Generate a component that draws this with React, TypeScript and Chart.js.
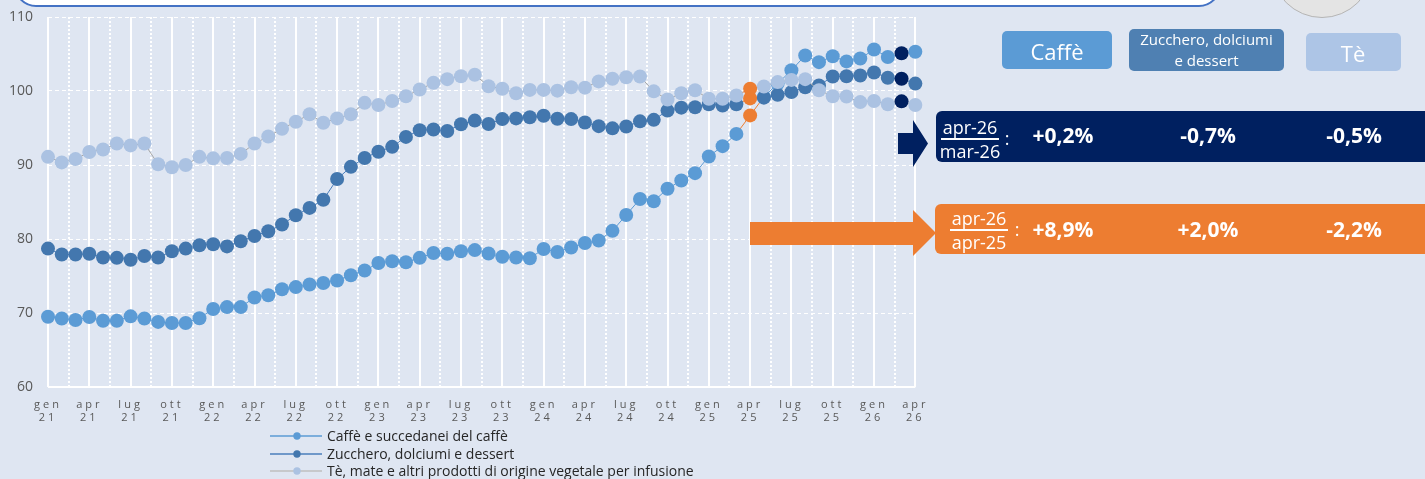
import React, { useEffect, useRef } from 'react';
import { Chart, registerables } from 'chart.js';

Chart.register(...registerables);

// ---------- DATA ----------
const MONTH_NAMES = ['gen', 'feb', 'mar', 'apr', 'mag', 'giu', 'lug', 'ago', 'set', 'ott', 'nov', 'dic'];
const YEARS = ['21', '22', '23', '24', '25', '26'];
const CATEGORIES = YEARS.flatMap((y) => MONTH_NAMES.map((m) => `${m} ${y}`)).slice(0, 64);

const TICK_LABELS = [
  'gen 21', 'apr 21', 'lug 21', 'ott 21',
  'gen 22', 'apr 22', 'lug 22', 'ott 22',
  'gen 23', 'apr 23', 'lug 23', 'ott 23',
  'gen 24', 'apr 24', 'lug 24', 'ott 24',
  'gen 25', 'apr 25', 'lug 25', 'ott 25',
  'gen 26', 'apr 26',
];

const CAFFE = [
  69.5, 69.25, 69.05, 69.45, 68.95, 68.95, 69.55, 69.25, 68.8, 68.65, 68.65, 69.3,
  70.55, 70.8, 70.8, 72.1, 72.4, 73.2, 73.5, 73.85, 74.05, 74.4, 75.1, 75.75,
  76.75, 77.0, 76.85, 77.45, 78.1, 78.0, 78.35, 78.5, 78.05, 77.6, 77.5, 77.4,
  78.65, 78.25, 78.85, 79.45, 79.8, 81.1, 83.25, 85.4, 85.1, 86.8, 87.9, 88.9,
  91.15, 92.55, 94.2, 96.7, 99.2, 101.0, 102.8, 104.8, 103.9, 104.7, 104.0, 104.4,
  105.6, 104.6, 105.1, 105.3,
];

const ZUCCHERO = [
  78.7, 77.9, 77.9, 78.0, 77.5, 77.45, 77.2, 77.7, 77.5, 78.35, 78.7, 79.15,
  79.3, 79.0, 79.7, 80.4, 81.05, 81.95, 83.2, 84.2, 85.3, 88.1, 89.75, 90.95,
  91.8, 92.45, 93.8, 94.7, 94.8, 94.6, 95.5, 96.0, 95.55, 96.2, 96.3, 96.45,
  96.65, 96.25, 96.2, 95.75, 95.25, 94.95, 95.2, 95.9, 96.1, 97.35, 97.75, 97.8,
  98.2, 98.05, 98.2, 99.0, 99.1, 99.5, 99.85, 100.5, 100.75, 101.95, 102.0, 102.1,
  102.5, 101.8, 101.65, 101.0,
];

const TE = [
  91.1, 90.35, 90.8, 91.75, 92.1, 92.9, 92.65, 92.9, 90.1, 89.7, 90.0, 91.1,
  90.9, 90.95, 91.5, 92.9, 93.85, 94.9, 95.85, 96.85, 95.7, 96.3, 96.85, 98.4,
  98.1, 98.65, 99.3, 100.2, 101.1, 101.6, 102.0, 102.2, 100.65, 100.3, 99.7, 100.15,
  100.15, 100.05, 100.5, 100.45, 101.3, 101.65, 101.85, 101.95, 99.95, 98.85, 99.7, 100.1,
  98.95, 98.95, 99.4, 100.3, 100.6, 101.2, 101.5, 101.6, 100.1, 99.3, 99.25, 98.5,
  98.65, 98.2, 98.6, 98.1,
];

const SERIES_NAMES = [
  'Caffè e succedanei del caffè',
  'Zucchero, dolciumi e dessert',
  'Tè, mate e altri prodotti di origine vegetale per infusione',
];
const HEADERS = ['Caffè', 'Zucchero, dolciumi e dessert', 'Tè'];
const MOM_LABELS = ['apr-26', 'mar-26'];
const YOY_LABELS = ['apr-26', 'apr-25'];
const MOM_VALUES = ['+0,2%', '-0,7%', '-0,5%'];
const YOY_VALUES = ['+8,9%', '+2,0%', '-2,2%'];

const YOY_INDEX = CATEGORIES.indexOf('apr 25');
const MOM_INDEX = CATEGORIES.indexOf('mar 26');

// ---------- STYLE ----------
const BG = '#DFE6F2';
const FONT = '"Open Sans", sans-serif';
const ORANGE = '#ED7D31';
const NAVY = '#002060';
const C_CAFFE = '#5B9BD5';
const C_ZUCCHERO = '#4377AE';
const C_TE = '#ABC2E2';
const L_CAFFE = '#5B9BD5';
const L_ZUCCHERO = '#4A7EBB';
const L_TE = '#A6A6A6';

const makeDataset = (label: string, values: number[], line: string, point: string, order: number) => {
  const pc = (c: any) => (c.dataIndex === YOY_INDEX ? ORANGE : c.dataIndex === MOM_INDEX ? NAVY : point);
  return {
    label,
    data: values.map((y, x) => ({ x, y })),
    borderColor: line,
    borderWidth: 1,
    pointRadius: 7,
    pointHoverRadius: 7,
    pointBorderWidth: 0,
    pointBackgroundColor: pc,
    pointBorderColor: pc,
    segment: {
      borderColor: (c: any) => (c.p0DataIndex === YOY_INDEX || c.p1DataIndex === YOY_INDEX ? ORANGE : undefined),
    },
    tension: 0,
    fill: false,
    clip: false as const,
    order,
  };
};

const letterSpacingPlugin = {
  id: 'xLabelSpacing',
  afterDatasetsDraw(chart: any) {
    chart.ctx.letterSpacing = '3px';
  },
  afterDraw(chart: any) {
    chart.ctx.letterSpacing = '0px';
  },
};

export default function App() {
  const canvasRef = useRef<HTMLCanvasElement | null>(null);

  useEffect(() => {
    document.body.style.margin = '0';
    const canvas = canvasRef.current;
    if (!canvas) return;
    const chart = new Chart(canvas, {
      type: 'line',
      data: {
        datasets: [
          makeDataset(SERIES_NAMES[0], CAFFE, L_CAFFE, C_CAFFE, 3),
          makeDataset(SERIES_NAMES[1], ZUCCHERO, L_ZUCCHERO, C_ZUCCHERO, 2),
          makeDataset(SERIES_NAMES[2], TE, L_TE, C_TE, 1),
        ] as any,
      },
      options: {
        animation: false,
        responsive: false,
        devicePixelRatio: 1,
        events: [],
        layout: { padding: { top: 17, left: 0, right: 17, bottom: 0 } },
        plugins: { legend: { display: false }, tooltip: { enabled: false }, title: { display: false } },
        scales: {
          x: {
            type: 'linear',
            min: 0,
            max: CATEGORIES.length - 1,
            afterBuildTicks: (scale: any) => {
              const ticks: { value: number }[] = [];
              for (let v = 0; v <= CATEGORIES.length - 1; v += 1.5) ticks.push({ value: v });
              scale.ticks = ticks;
            },
            afterFit: (scale: any) => {
              scale.height = 432 - 387;
            },
            ticks: {
              autoSkip: false,
              maxRotation: 0,
              minRotation: 0,
              padding: 11,
              color: '#595959',
              font: { family: FONT, size: 11 },
              z: 1,
              callback: (value: any) => {
                const idx = Number(value);
                if (!Number.isInteger(idx)) return '';
                const cat = CATEGORIES[idx];
                return TICK_LABELS.includes(cat) ? cat.split(' ') : '';
              },
            },
            grid: {
              color: '#FFFFFF',
              lineWidth: 2,
              drawTicks: false,
            },
            border: {
              display: false,
              dash: (c: any) => (c.tick && c.tick.value % 3 !== 0 ? [2, 2] : []),
            },
          } as any,
          y: {
            min: 60,
            max: 110,
            afterFit: (scale: any) => {
              scale.width = 48;
              scale.paddingTop = 0;
              scale.paddingBottom = 0;
            },
            ticks: {
              stepSize: 10,
              padding: 15,
              color: '#595959',
              font: { family: FONT, size: 14 },
            },
            grid: {
              color: '#FFFFFF',
              lineWidth: (c: any) => (c.tick && c.tick.value === 60 ? 2 : 1),
              drawTicks: false,
            },
            border: {
              display: false,
              dash: (c: any) => (c.tick && c.tick.value === 60 ? [] : [4, 3]),
            },
          } as any,
        },
      },
      plugins: [letterSpacingPlugin],
    });
    return () => chart.destroy();
  }, []);

  const abs = (extra: React.CSSProperties): React.CSSProperties => ({ position: 'absolute', ...extra });
  const centered = (x: number, y: number, extra: React.CSSProperties): React.CSSProperties => ({
    position: 'absolute',
    left: x,
    top: y,
    transform: 'translate(-50%, -50%)',
    whiteSpace: 'nowrap',
    lineHeight: 1,
    ...extra,
  });

  const legendColors = [
    [L_CAFFE, C_CAFFE],
    [L_ZUCCHERO, C_ZUCCHERO],
    ['#BFBFBF', C_TE],
  ];
  const legendRows = [436, 453.5, 471];
  const colX = [1063, 1208, 1354];

  const fraction = (top: string, bottom: string, cx: number, cy: number, colonX: number) => (
    <>
      <div style={centered(cx, cy - 11, { color: '#fff', fontSize: 18, fontFamily: FONT })}>{top}</div>
      <div style={abs({ left: cx - 29, top: cy, width: 58, height: 1.5, background: '#fff' })} />
      <div style={centered(cx, cy + 13, { color: '#fff', fontSize: 18, fontFamily: FONT })}>{bottom}</div>
      <div style={centered(colonX, cy, { color: '#fff', fontSize: 18, fontFamily: FONT })}>:</div>
    </>
  );

  return (
    <div
      style={{
        position: 'fixed',
        left: 0,
        top: 0,
        width: 1425,
        height: 479,
        background: BG,
        overflow: 'hidden',
        fontFamily: FONT,
      }}
    >
      {/* top decorations */}
      <div
        style={abs({
          left: 14,
          top: -40,
          width: 1207,
          height: 47,
          border: '2px solid #4472C4',
          borderRadius: 22,
          background: '#FFFFFF',
          boxSizing: 'border-box',
        })}
      />
      <div
        style={abs({
          left: 1271,
          top: -84,
          width: 102,
          height: 102,
          borderRadius: '50%',
          border: '1.5px solid #B5B5B5',
          background: '#E4E4E4',
          boxSizing: 'border-box',
        })}
      />

      <canvas ref={canvasRef} width={935} height={432} style={{ position: 'absolute', left: 0, top: 0, display: 'block' }} />

      {/* arrows */}
      <svg width={1425} height={479} style={{ position: 'absolute', left: 0, top: 0 }}>
        <polygon points="898,133 913,133 913,120 928,143.5 913,167 913,154 898,154" fill={NAVY} />
        <polygon points="750,222 913,222 913,210 936,233 913,256 913,245 750,245" fill={ORANGE} />
      </svg>

      {/* legend */}
      {SERIES_NAMES.map((name, i) => (
        <React.Fragment key={name}>
          <svg width={54} height={10} style={abs({ left: 269, top: legendRows[i] - 5 })}>
            <line x1={1} y1={5} x2={53} y2={5} stroke={legendColors[i][0]} strokeWidth={1.5} />
            <circle cx={28} cy={5} r={3.7} fill={legendColors[i][1]} />
          </svg>
          <div
            style={abs({
              left: 327,
              top: legendRows[i] - 9,
              fontSize: 14,
              lineHeight: '18px',
              color: '#262626',
              whiteSpace: 'nowrap',
            })}
          >
            {name}
          </div>
        </React.Fragment>
      ))}

      {/* header boxes */}
      <div style={abs({ left: 1002, top: 31, width: 110, height: 38, background: '#5B9BD5', borderRadius: 5 })} />
      <div style={centered(1057, 51, { color: '#fff', fontSize: 22 })}>{HEADERS[0]}</div>
      <div style={abs({ left: 1129, top: 29, width: 155, height: 42, background: '#4F80B2', borderRadius: 5 })} />
      <div
        style={abs({
          left: 1129,
          top: 29,
          width: 155,
          height: 42,
          color: '#fff',
          fontSize: 15,
          lineHeight: '21px',
          textAlign: 'center',
          whiteSpace: 'nowrap',
        })}
      >
        Zucchero, dolciumi
        <br />e dessert
      </div>
      <div style={abs({ left: 1306, top: 33, width: 95, height: 38, background: '#ADC5E6', borderRadius: 5 })} />
      <div style={centered(1353, 53, { color: '#fff', fontSize: 22 })}>{HEADERS[2]}</div>

      {/* month-on-month box */}
      <div style={abs({ left: 936, top: 111, width: 500, height: 51, background: NAVY, borderRadius: 6 })} />
      {fraction(MOM_LABELS[0], MOM_LABELS[1], 970, 138, 1007)}
      {MOM_VALUES.map((v, i) => (
        <div key={'m' + i} style={centered(colX[i], 135, { color: '#fff', fontSize: 21, fontWeight: 700 })}>
          {v}
        </div>
      ))}

      {/* year-on-year box */}
      <div style={abs({ left: 935, top: 204, width: 500, height: 50, background: ORANGE, borderRadius: 6 })} />
      {fraction(YOY_LABELS[0], YOY_LABELS[1], 979, 229, 1017)}
      {YOY_VALUES.map((v, i) => (
        <div key={'y' + i} style={centered(colX[i], 229, { color: '#fff', fontSize: 21, fontWeight: 700 })}>
          {v}
        </div>
      ))}
    </div>
  );
}
